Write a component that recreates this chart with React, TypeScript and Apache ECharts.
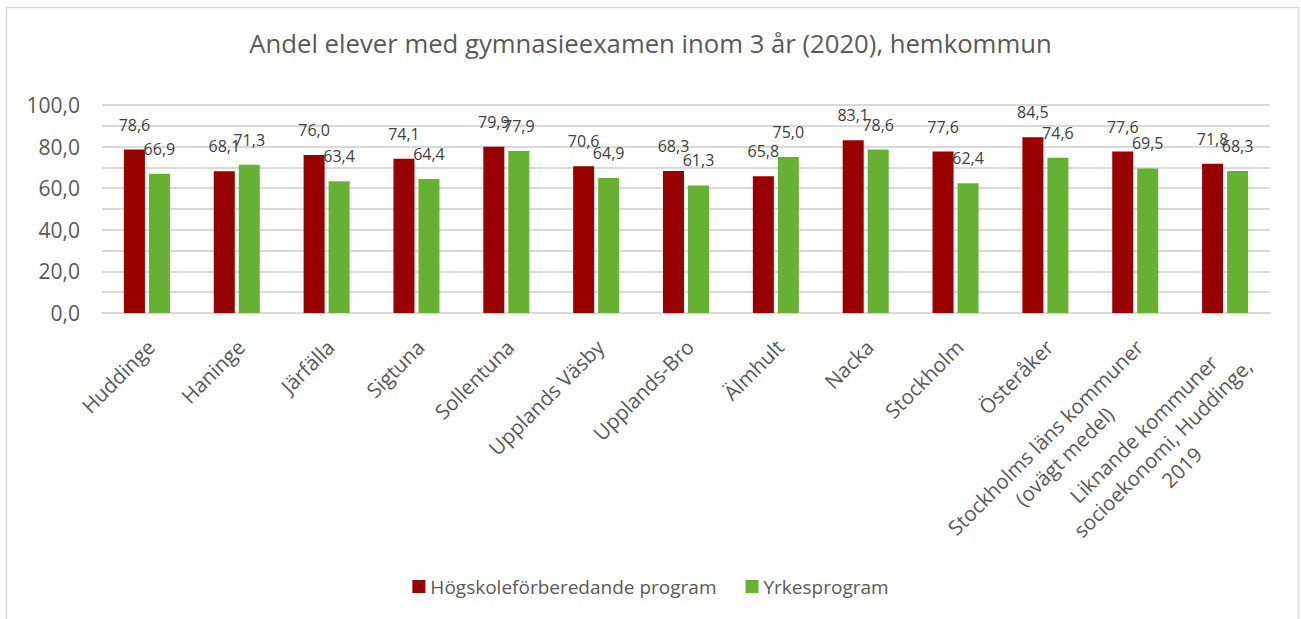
import React, { useEffect, useRef } from "react";
import * as echarts from "echarts";

const categories = [
  "Huddinge",
  "Haninge",
  "Järfälla",
  "Sigtuna",
  "Sollentuna",
  "Upplands Väsby",
  "Upplands-Bro",
  "Älmhult",
  "Nacka",
  "Stockholm",
  "Österåker",
  "Stockholms läns kommuner\n(ovägt medel)",
  "Liknande kommuner\nsocioekonomi, Huddinge,\n2019",
];
const hogskole = [78.6, 68.1, 76.0, 74.1, 79.9, 70.6, 68.3, 65.8, 83.1, 77.6, 84.5, 77.6, 71.8];
const yrkes = [66.9, 71.3, 63.4, 64.4, 77.9, 64.9, 61.3, 75.0, 78.6, 62.4, 74.6, 69.5, 68.3];
const seriesNames = ["Högskoleförberedande program", "Yrkesprogram"];
const title = "Andel elever med gymnasieexamen inom 3 år (2020), hemkommun";

const FONT = "'Open Sans', sans-serif";
const fmt = (v: number) => v.toFixed(1).replace(".", ",");

export default function App() {
  const ref = useRef<HTMLDivElement>(null);
  useEffect(() => {
    if (!ref.current) return;
    const chart = echarts.init(ref.current, null, { renderer: "svg" });
    const label = {
      show: true,
      position: "top",
      distance: 17,
      fontFamily: FONT,
      fontSize: 16,
      color: "#404040",
      formatter: (p: any) => fmt(p.value),
    };
    chart.setOption({
      animation: false,
      backgroundColor: "#ffffff",
      textStyle: { fontFamily: FONT },
      title: {
        text: title,
        left: "center",
        top: 25,
        textStyle: { fontFamily: FONT, fontSize: 25.7, fontWeight: "normal", color: "#595959" },
      },
      graphic: [
        {
          type: "rect",
          shape: { x: 6.5, y: 7.5, width: 1292, height: 620 },
          style: { fill: "none", stroke: "#d9d9d9", lineWidth: 1.5 },
          silent: true,
        },
      ],
      legend: {
        bottom: 18,
        left: "center",
        itemWidth: 13,
        itemHeight: 13,
        itemGap: 29,
        icon: "rect",
        textStyle: { fontFamily: FONT, fontSize: 19, color: "#595959" },
        data: seriesNames,
      },
      grid: { left: 102, right: 31, top: 105, bottom: 306, containLabel: false },
      xAxis: {
        type: "category",
        data: categories,
        axisLine: { lineStyle: { color: "#d9d9d9", width: 2 } },
        axisTick: { show: false },
        axisLabel: {
          rotate: 45,
          interval: 0,
          margin: 15,
          verticalAlign: "top",
          fontFamily: FONT,
          fontSize: 20.5,
          color: "#595959",
          formatter: (v: string) =>
            v
              .split("\n")
              .map((line) => `{c|${line}}`)
              .join("\n"),
          rich: {
            c: {
              align: "center",
              fontFamily: FONT,
              fontSize: 20.5,
              color: "#595959",
              lineHeight: 27,
              padding: [0, 8, 0, 0],
            },
          },
        },
      },
      yAxis: {
        type: "value",
        min: 0,
        max: 100,
        interval: 10,
        axisLine: { show: false },
        axisTick: { show: false },
        splitLine: { lineStyle: { color: "#d9d9d9", width: 2 } },
        axisLabel: {
          fontFamily: FONT,
          fontSize: 21,
          color: "#595959",
          margin: 22,
          formatter: (v: number) => (Math.round(v) % 20 === 0 ? fmt(v) : ""),
        },
      },
      series: [
        {
          name: seriesNames[0],
          type: "bar",
          data: hogskole,
          barWidth: 21,
          barGap: "19%",
          itemStyle: { color: "#990000" },
          label,
        },
        {
          name: seriesNames[1],
          type: "bar",
          data: yrkes,
          barWidth: 21,
          barGap: "19%",
          itemStyle: { color: "#66b132" },
          label,
        },
      ],
    });
    return () => chart.dispose();
  }, []);
  return (
    <div
      ref={ref}
      style={{ position: "absolute", left: 0, top: 0, width: 1301, height: 619 }}
    />
  );
}
